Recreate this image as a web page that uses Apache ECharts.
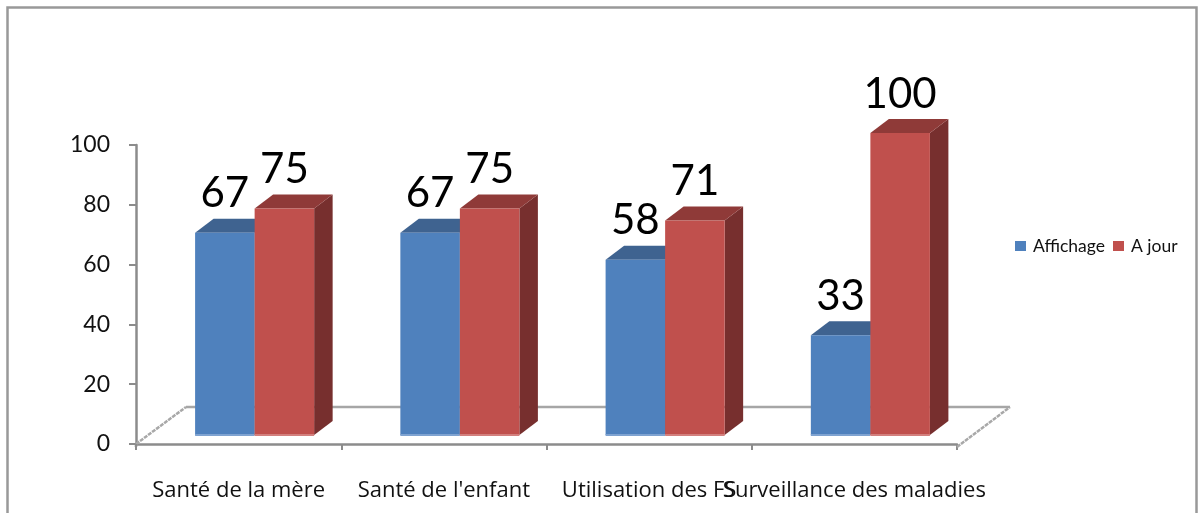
<!DOCTYPE html>
<html><head><meta charset="utf-8">
<style>html,body{margin:0;padding:0;background:#fff}#c{width:1200px;height:513px}</style>
<script src="https://cdn.jsdelivr.net/npm/echarts@6/dist/echarts.min.js"></script>
</head><body><div id="c"></div>
<script>
const categories = ["Santé de la mère", "Santé de l'enfant", "Utilisation des FS", "Surveillance des maladies"];
const affichage = [67, 67, 58, 33];
const aJour = [75, 75, 71, 100];
const yTicks = [0, 20, 40, 60, 80, 100];

const FONT = 'Lato, "Open Sans", sans-serif';
const DEPTH_X = 18.5, DEPTH_Y = 14, LIFT = 9, SHIFT = 16, YSCALE = 1.01;

function barRenderer(side, c) {
  return function (params, api) {
    const i = api.value(0), v = api.value(1);
    const p0 = api.coord([i, 0]), pv = api.coord([i, v]);
    const band = api.size([1, 0])[0];
    const w = band * 0.29;
    const cx = p0[0] + SHIFT;
    const x0 = side === 0 ? cx - w : cx, x1 = x0 + w;
    const yB = p0[1] - LIFT, yT = yB - (p0[1] - pv[1]) * YSCALE;
    const poly = (pts, fill) => ({ type: 'polygon', shape: { points: pts }, style: { fill: fill } });
    return { type: 'group', children: [
      poly([[x1, yT], [x1 + DEPTH_X, yT - DEPTH_Y], [x1 + DEPTH_X, yB - DEPTH_Y], [x1, yB]], c.side),
      poly([[x0, yT], [x0 + DEPTH_X, yT - DEPTH_Y], [x1 + DEPTH_X, yT - DEPTH_Y], [x1, yT]], c.top),
      { type: 'rect', shape: { x: x0, y: yT, width: w, height: yB - yT }, style: { fill: c.front } },
      { type: 'rect', shape: { x: x0, y: yB - 1, width: w, height: 2 }, style: { fill: c.foot } },
      { type: 'text', style: { text: String(v), x: (x0 + x1) / 2, y: yT - 39, align: 'center', verticalAlign: 'middle',
          font: '42px ' + FONT, fill: '#000' } }
    ] };
  };
}

function floorRenderer(params, api) {
  const a = api.coord([0, 0]);
  const band = api.size([1, 0])[0];
  const r = a[0] - band / 2 + band * categories.length;
  const l = a[0] - band / 2;
  const yf = a[1] - 37;
  const line = (x1, y1, x2, y2, stroke, lw, dash) => ({ type: 'line', shape: { x1, y1, x2, y2 },
    style: { stroke, lineWidth: lw, lineDash: dash || null } });
  return { type: 'group', children: [
    line(l + 50, yf, r + 53, yf, '#a6a6a6', 2.5),
    line(l, a[1], l + 50, yf, '#a8a8a8', 2.5, [4, 1]),
    line(r, a[1] + 3, r + 53, yf, '#a8a8a8', 2.5, [4, 1]),
    line(l, a[1], l, a[1] + 3, '#8c8c8c', 2.5)
  ] };
}

const chart = echarts.init(document.getElementById('c'), null, { renderer: 'canvas' });
chart.setOption({
  animation: false,
  backgroundColor: '#fff',
  graphic: [{ type: 'rect', silent: true, z: -1, shape: { x: 7.5, y: 7.5, width: 1189, height: 520 },
    style: { fill: 'none', stroke: '#999', lineWidth: 2.5 } }],
  grid: { left: 136, right: 243, top: 145, bottom: 69, containLabel: false },
  legend: {
    data: ['Affichage', 'A jour'], left: 1010, top: 232, icon: 'rect',
    itemWidth: 11, itemHeight: 10, itemGap: 8,
    textStyle: { fontFamily: FONT, fontSize: 17.5, color: '#111', padding: [0, 0, 0, 2] }
  },
  xAxis: {
    type: 'category', data: categories, offset: 3,
    axisLine: { show: true, lineStyle: { color: '#8c8c8c', width: 2.5 } },
    axisTick: { show: true, length: 6, alignWithLabel: false, lineStyle: { color: '#8c8c8c', width: 2 } },
    axisLabel: { interval: 0, hideOverlap: false, margin: 33, color: '#111', fontFamily: '"Open Sans", sans-serif', fontSize: 22 }
  },
  yAxis: {
    type: 'value', min: 0, max: 100, interval: 20,
    axisLine: { show: true, lineStyle: { color: '#8c8c8c', width: 2.5 } },
    axisTick: { show: true, length: 7, lineStyle: { color: '#8c8c8c', width: 2 } },
    splitLine: { show: false },
    axisLabel: { margin: 26, color: '#111', fontFamily: FONT, fontSize: 23,
      customValues: yTicks }
  },
  series: [
    { type: 'custom', name: 'floor', silent: true, z: 1, data: [[0, 0]], encode: { x: 0, y: 1 }, renderItem: floorRenderer },
    { type: 'custom', name: 'Affichage', z: 2, itemStyle: { color: '#4f81bd' }, encode: { x: 0, y: 1 },
      data: affichage.map((v, i) => [i, v]),
      renderItem: barRenderer(0, { front: '#4f81bd', top: '#3f6390', side: '#3a5d88', foot: '#7fa3d1' }) },
    { type: 'custom', name: 'A jour', z: 3, itemStyle: { color: '#c0504d' }, encode: { x: 0, y: 1 },
      data: aJour.map((v, i) => [i, v]),
      renderItem: barRenderer(1, { front: '#c0504d', top: '#8f3a38', side: '#772f2e', foot: '#d3807e' }) }
  ]
});
</script></body></html>
